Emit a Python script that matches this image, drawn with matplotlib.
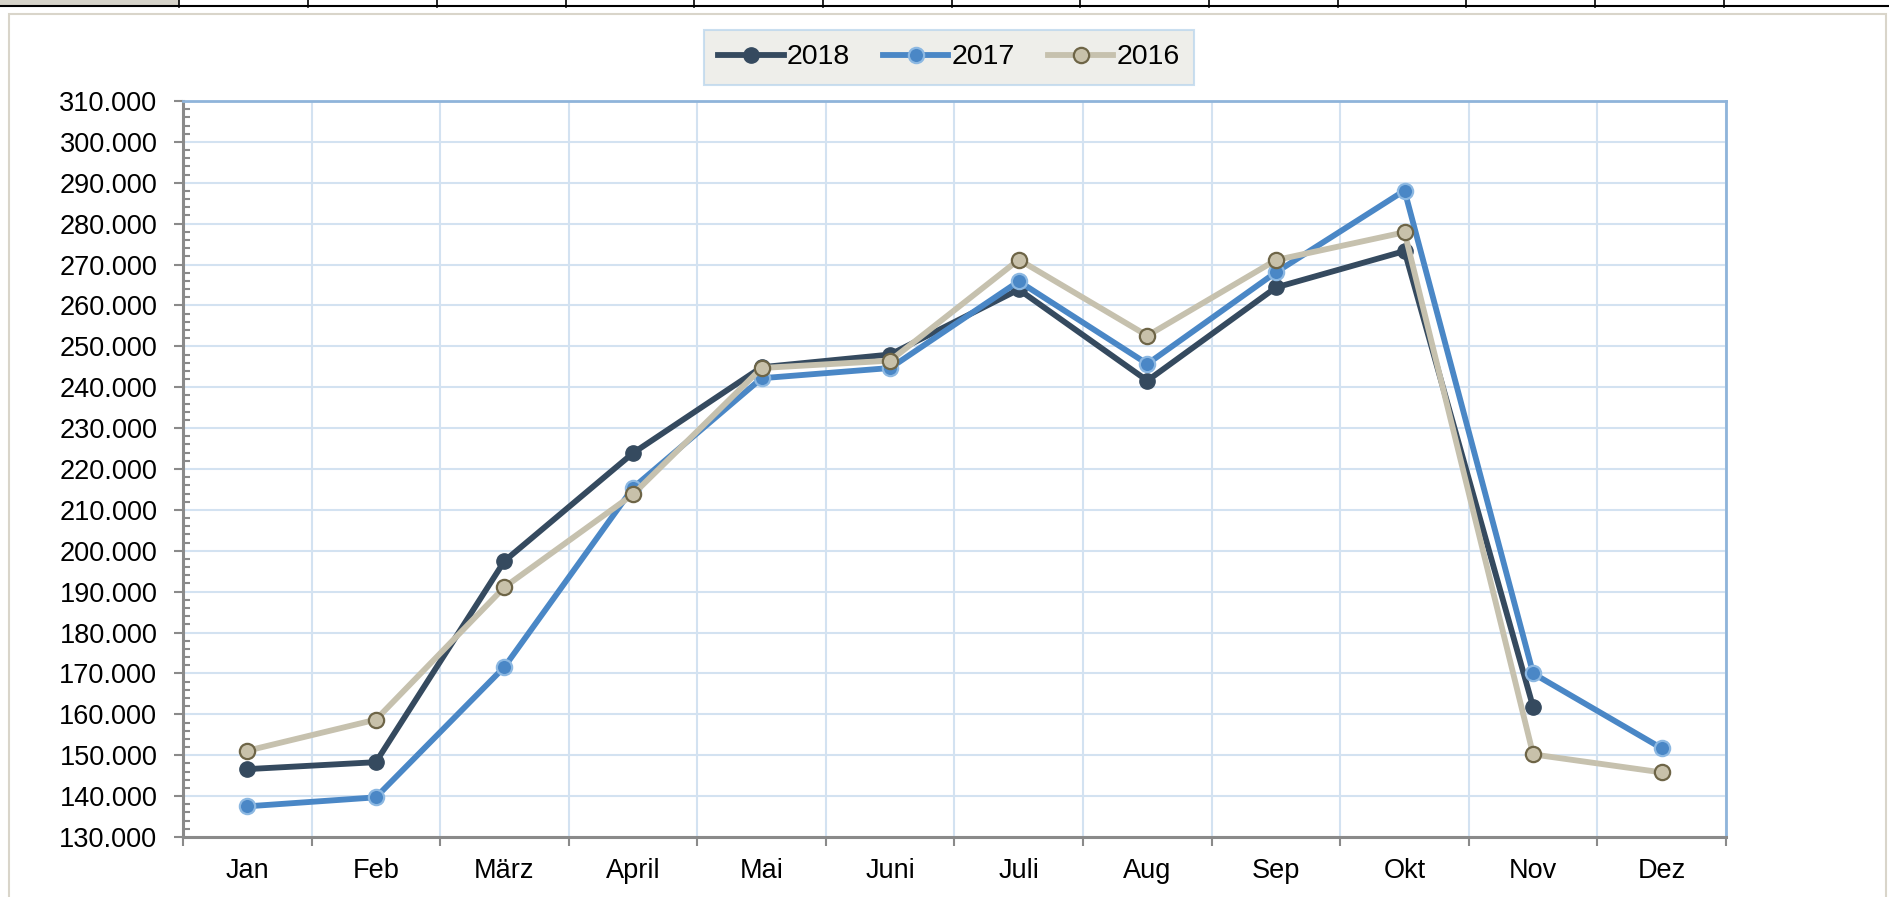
import matplotlib
matplotlib.use("Agg")
import matplotlib.pyplot as plt
from matplotlib.patches import Rectangle
from matplotlib.lines import Line2D
from matplotlib.ticker import FixedLocator, MultipleLocator, FuncFormatter

plt.rcParams['font.family'] = ['Liberation Sans', 'DejaVu Sans']

months = ['Jan', 'Feb', 'März', 'April', 'Mai', 'Juni', 'Juli', 'Aug', 'Sep', 'Okt', 'Nov', 'Dez']

# values in thousands
y2018 = [146.6, 148.3, 197.5, 223.9, 244.9, 248.0, 263.9, 241.6, 264.4, 273.3, 161.8]
y2017 = [137.5, 139.7, 171.6, 215.4, 242.2, 244.7, 265.9, 245.7, 268.1, 288.1, 170.0, 151.7]
y2016 = [151.1, 158.7, 191.1, 213.8, 244.7, 246.5, 271.2, 252.6, 271.1, 277.9, 150.2, 145.8]

W, H = 1889, 897
fig = plt.figure(figsize=(W / 100, H / 100), dpi=100)

def fx(px):
    return px / W

def fy(py):
    return 1 - py / H

# spreadsheet header strip at the very top
fig.patches.append(Rectangle((0, fy(7)), fx(179), 7 / H, transform=fig.transFigure,
                             facecolor='#d6d3c9', edgecolor='none', zorder=-2))
fig.lines.append(Line2D([0, 1], [fy(6.5), fy(6.5)], transform=fig.transFigure,
                        color='black', lw=1.5, zorder=-1))
for cx in [179, 308, 437, 566, 694, 823, 952, 1080, 1209, 1338, 1466, 1595, 1724]:
    fig.lines.append(Line2D([fx(cx), fx(cx)], [fy(0), fy(7)], transform=fig.transFigure,
                            color='black', lw=1.2, zorder=-1))

# chart frame
fig.patches.append(Rectangle((fx(9), -0.05), fx(1886 - 9), fy(14) + 0.05,
                             transform=fig.transFigure, facecolor='white',
                             edgecolor='#d9d5ca', lw=1.5, zorder=-2))

ax = fig.add_axes([fx(183), fy(837), fx(1726 - 183), (837 - 101) / H])
ax.set_facecolor('white')

x = list(range(12))
s18, = ax.plot(x[:len(y2018)], [v * 1000 for v in y2018], color='#354a5f', lw=4.2,
               marker='o', ms=11, mfc='#354a5f', mec='#354a5f', label='2018', zorder=3)
s17, = ax.plot(x, [v * 1000 for v in y2017], color='#4a87c6', lw=4.2,
               marker='o', ms=11, mfc='#4a87c6', mec='#8cb8e2', mew=1.6, label='2017', zorder=4)
s16, = ax.plot(x, [v * 1000 for v in y2016], color='#c6c1ae', lw=4.2,
               marker='o', ms=11, mfc='#c8c1aa', mec='#6e6547', mew=1.6, label='2016', zorder=5)

ax.set_xlim(-0.5, 11.5)
ax.set_ylim(130000, 310000)

ax.yaxis.set_major_locator(MultipleLocator(10000))
ax.yaxis.set_minor_locator(MultipleLocator(2000))
ax.yaxis.set_major_formatter(FuncFormatter(lambda v, p: f"{int(round(v)):,}".replace(',', '.')))
ax.tick_params(axis='y', which='major', direction='out', length=6.5, width=1.5,
               color='#8a8a8a', labelsize=19.5, pad=12)
ax.tick_params(axis='y', which='minor', direction='in', length=5, width=1.5, color='#8a8a8a')

ax.xaxis.set_major_locator(FixedLocator([i - 0.5 for i in range(13)]))
ax.xaxis.set_major_formatter(FuncFormatter(lambda v, p: ''))
ax.set_xticks(x, months, minor=True)
ax.tick_params(axis='x', which='major', direction='out', length=6.5, width=1.5, color='#8a8a8a')
ax.tick_params(axis='x', which='minor', length=0, labelsize=19.5, pad=15)

ax.grid(True, which='major', color='#d3e2f1', lw=1.5, zorder=0)
ax.set_axisbelow(True)

for side in ['left', 'bottom']:
    ax.spines[side].set_color('#8a8a8a')
    ax.spines[side].set_linewidth(2.2)
for side in ['top', 'right']:
    ax.spines[side].set_color('#8fb4da')
    ax.spines[side].set_linewidth(2.0)

leg = fig.legend(handles=[s18, s17, s16], loc='center', bbox_to_anchor=(fx(949), fy(57.5)),
                 ncol=3, fontsize=20.5, frameon=True, fancybox=False, facecolor='#eaeae5',
                 edgecolor='#bdd7ed', handlelength=2.3, handletextpad=0.12, columnspacing=1.15,
                 borderpad=0.5)
leg.get_frame().set_linewidth(1.5)

fig.savefig('out.png', dpi=100)
